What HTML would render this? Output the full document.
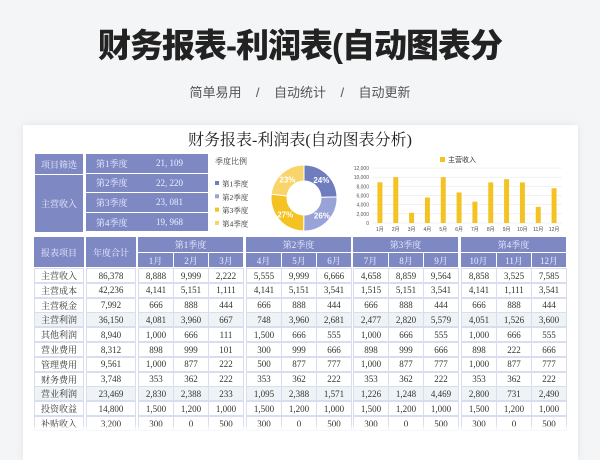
<!DOCTYPE html>
<html><head><meta charset="utf-8"><style>
*{margin:0;padding:0;box-sizing:border-box}
body{width:600px;height:460px;overflow:hidden;background:#f4f5f7;font-family:"Liberation Sans","Noto Sans CJK SC",sans-serif;position:relative}
#title{position:absolute;left:0;top:24px;width:600px;text-align:center;font-size:33px;font-weight:900;color:#222;letter-spacing:-1px;line-height:44px}
#sub{position:absolute;left:0;top:84px;width:600px;text-align:center;font-size:13px;color:#555;line-height:18px}
#card{position:absolute;left:23px;top:125px;width:555px;height:335px;background:#fff;box-shadow:0 0 8px rgba(0,0,0,.08);overflow:hidden}
.serif{font-family:"Liberation Serif","Noto Serif CJK SC",serif}
#ctitle{position:absolute;left:0;top:131px;width:600px;text-align:center;font-size:16px;color:#222;line-height:20px}
.hc{position:absolute;background:#7e89c4;color:#eef;font-size:9px;display:flex;align-items:center;justify-content:center;font-family:"Liberation Serif","Noto Serif CJK SC",serif}
.dc{position:absolute;background:#fff;border:1px solid #d8def0;color:#333;font-size:9px;display:flex;align-items:center;justify-content:center;font-family:"Liberation Serif","Noto Serif CJK SC",serif}
.hl{background:#eef4f6}
</style></head><body>
<div id="title">财务报表-利润表(自动图表分</div>
<div id="sub">简单易用 &nbsp;&nbsp; / &nbsp;&nbsp; 自动统计 &nbsp;&nbsp; / &nbsp;&nbsp; 自动更新</div>
<div id="card"></div>
<div id="ctitle" class="serif">财务报表-利润表(自动图表分析)</div>
<div id="root"></div>
<svg id="charts" width="600" height="460" style="position:absolute;left:0;top:0"></svg>
<script>
const quarters=['第1季度','第2季度','第3季度','第4季度'];
const quarterIncome=[21109,22220,23081,19968];
const pieLabels=['24%','26%','27%','23%'];
const months=['1月','2月','3月','4月','5月','6月','7月','8月','9月','10月','11月','12月'];
const monthlyIncome=[8888,9999,2222,5555,9999,6666,4658,8859,9564,8858,3525,7585];
const yTicks=[0,2000,4000,6000,8000,10000,12000];
const rowNames=['主营收入','主营成本','主营税金','主营利润','其他利润','营业费用','管理费用','财务费用','营业利润','投资收益','补贴收入'];
const annual=['86,378','42,236','7,992','36,150','8,940','8,312','9,561','3,748','23,469','14,800','3,200'];
const monthly=[
['8,888','9,999','2,222','5,555','9,999','6,666','4,658','8,859','9,564','8,858','3,525','7,585'],
['4,141','5,151','1,111','4,141','5,151','3,541','1,515','5,151','3,541','4,141','1,111','3,541'],
['666','888','444','666','888','444','666','888','444','666','888','444'],
['4,081','3,960','667','748','3,960','2,681','2,477','2,820','5,579','4,051','1,526','3,600'],
['1,000','666','111','1,500','666','555','1,000','666','555','1,000','666','555'],
['898','999','101','300','999','666','898','999','666','898','222','666'],
['1,000','877','222','500','877','777','1,000','877','777','1,000','877','777'],
['353','362','222','353','362','222','353','362','222','353','362','222'],
['2,830','2,388','233','1,095','2,388','1,571','1,226','1,248','4,469','2,800','731','2,490'],
['1,500','1,200','1,000','1,500','1,200','1,000','1,500','1,200','1,000','1,500','1,200','1,000'],
['300','0','500','300','0','500','300','0','500','300','0','500']];
const root=document.getElementById('root');
function cell(cls,x,y,w,h,t){const d=document.createElement('div');d.className=cls;d.style.left=x+'px';d.style.top=y+'px';d.style.width=w+'px';d.style.height=h+'px';d.textContent=t;root.appendChild(d);return d;}
let e=cell('hc',35,154,48,20,'项目筛选');


e=cell('hc',35,175,48,57,'主营收入');


quarters.forEach((q,i)=>{const y=154+i*19.6;
 let a=cell('hc',86,y,122,18.6,'');a.style.justifyContent='flex-start';
 a.innerHTML='<span style="position:absolute;left:10px">'+q+'</span><span style="position:absolute;left:70px">'+quarterIncome[i].toLocaleString('en-US').replace(',',', ')+'</span>';
 
 
});
const groupX=[138,246,353,461],colW=35;
e=cell('hc',34,237,50,30,'报表项目');


e=cell('hc',86,237,50,30,'年度合计');


groupX.forEach((gx,g)=>{
 let h=cell('hc',gx,237,105,15,quarters[g]);
 
 
 for(let m=0;m<3;m++){let c=cell('hc',gx+m*colW+(m?1:0),253,colW-(m?1:0),14,months[g*3+m]);
  
  }
});
rowNames.forEach((r,i)=>{const y=268+i*14.8;const hl=(i==3||i==8)?' hl':'';
 let c=cell('dc'+hl,34,y,50,15,r);
 
 
 c=cell('dc'+hl,86,y,50,15,annual[i]);
 
 
 groupX.forEach((gx,g)=>{for(let m=0;m<3;m++){let d=cell('dc'+hl,gx+m*colW,y,colW+1,15,monthly[i][g*3+m]);
  
  }});
});
const f=document.createElement('div');f.style.cssText='position:absolute;left:23px;top:426px;width:555px;height:34px;background:linear-gradient(rgba(255,255,255,.5),#fff 25%)';


root.appendChild(f);
const svg=document.getElementById('charts');const NS='http://www.w3.org/2000/svg';
function el(t,a,txt){const n=document.createElementNS(NS,t);for(const k in a)n.setAttribute(k,a[k]);if(txt!=null)n.textContent=txt;svg.appendChild(n);return n;}
const pieColors=['#6f7dbf','#9aa3d7','#f5c223','#f8d46a'];
let t=el('text',{x:215,y:164,'font-size':8,fill:'#333','font-family':'Liberation Serif,Noto Serif CJK SC,serif'},'季度比例');


quarters.forEach((q,i)=>{const y=184+i*13.3;
 let r=el('rect',{x:215,y:y-3,width:4,height:4,fill:pieColors[i]});
 
 
 let tx=el('text',{x:222,y:y+2.5,'font-size':7.5,fill:'#333','font-family':'Liberation Serif,Noto Serif CJK SC,serif'},q);
 
 
});
const cx=304,cy=198,R=33,r0=17;const tot=quarterIncome.reduce((a,b)=>a+b,0);let ang=-Math.PI/2;
quarterIncome.forEach((v,i)=>{const a2=ang+v/tot*2*Math.PI;const p=(a,rr)=>[cx+rr*Math.cos(a),cy+rr*Math.sin(a)];
 const [x1,y1]=p(ang,R),[x2,y2]=p(a2,R),[x3,y3]=p(a2,r0),[x4,y4]=p(ang,r0);
 let s=el('path',{d:`M${x1},${y1}A${R},${R} 0 0 1 ${x2},${y2}L${x3},${y3}A${r0},${r0} 0 0 0 ${x4},${y4}Z`,fill:pieColors[i],stroke:'#fff','stroke-width':1});
 
 
 const m=(ang+a2)/2,[lx,ly]=p(m,25);
 let l=el('text',{x:lx,y:ly+3,'font-size':8,'font-weight':'bold',fill:'#fff','text-anchor':'middle'},pieLabels[i]);
 
 
 ang=a2;});
const x0=372,x1=562,yb=223,yt=168,ymax=12000;
const Y=v=>yb-(v/ymax)*(yb-yt);const bw=(x1-x0)/months.length;const X=i=>x0+bw*(i+0.5);
yTicks.forEach(v=>{let g=el('line',{x1:x0,x2:x1,y1:Y(v),y2:Y(v),stroke:'#e6e6e6','stroke-width':0.5});
 
 
 let tx=el('text',{x:x0-3,y:Y(v)+2,'font-size':5,fill:'#555','text-anchor':'end'},v.toLocaleString('en-US'));
 
 });
monthlyIncome.forEach((v,i)=>{let b=el('rect',{x:X(i)-2.5,y:Y(v),width:5,height:yb-Y(v),fill:'#f5c223'});
 
 
 let tx=el('text',{x:X(i),y:231,'font-size':5,fill:'#444','text-anchor':'middle'},months[i]);
 
 });
let ls=el('rect',{x:440,y:157,width:5,height:5,fill:'#f5c223'});


let lt=el('text',{x:448,y:162,'font-size':7,fill:'#333'},'主营收入');


</script>
</body></html>
